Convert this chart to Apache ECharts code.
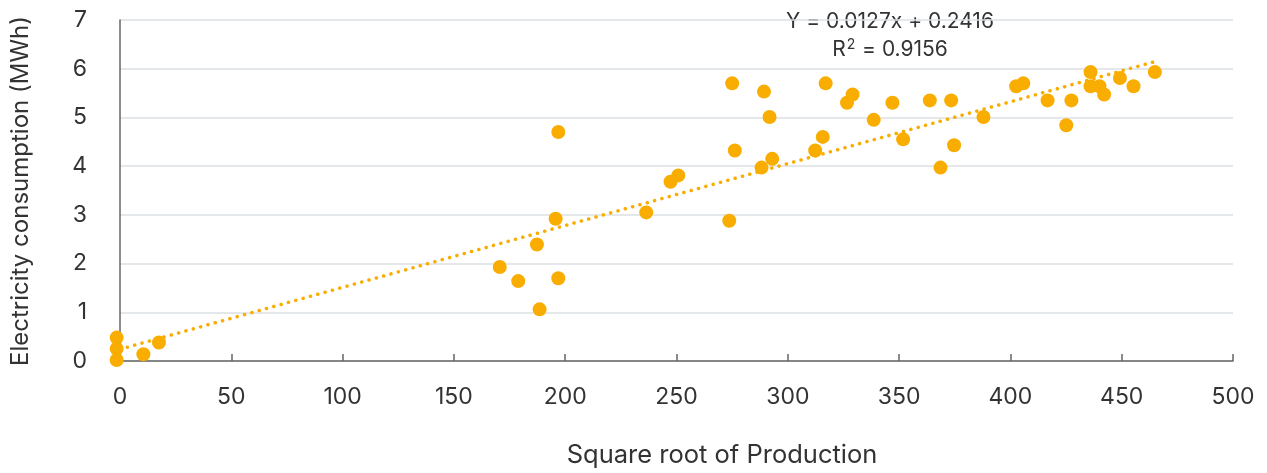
<!DOCTYPE html>
<html><head><meta charset="utf-8">
<script src="https://cdn.jsdelivr.net/npm/echarts@6/dist/echarts.min.js"></script>
<style>html,body{margin:0;padding:0;background:#fff}#c{width:1267px;height:473px}</style>
</head><body><div id="c"></div>
<script>
const xValues = [-1.5,-1.5,-1.5,10.5,17.5,170.6,178.9,187.3,188.5,195.7,196.9,196.9,
  236.4,247.3,250.8,273.7,275.0,276.2,288.2,289.3,291.8,293.0,312.3,315.7,317.0,326.6,329.1,
  338.6,347.0,351.8,363.8,368.6,373.4,374.7,387.9,402.6,405.8,416.7,425.1,427.4,436.0,436.0,
  440.0,442.1,449.2,455.3,464.9];
const yValues = [0.48,0.25,0.02,0.14,0.38,1.93,1.64,2.39,1.06,2.92,1.70,4.70,
  3.05,3.68,3.81,2.88,5.70,4.32,3.97,5.53,5.01,4.15,4.32,4.60,5.70,5.30,5.47,
  4.95,5.30,4.55,5.35,3.97,5.35,4.43,5.01,5.64,5.70,5.35,4.84,5.35,5.93,5.64,
  5.64,5.47,5.81,5.64,5.93];
const trendSlope = 0.0127, trendIntercept = 0.2416, trendR2 = 0.9156;
const trendX = [0, 465];
const xTicks = [0,50,100,150,200,250,300,350,400,450,500];
const yTicks = [0,1,2,3,4,5,6,7];

const pts = xValues.map((x,i)=>[x,yValues[i]]);
const trend = trendX.map(x=>[x, trendSlope*x + trendIntercept]);
const FONT = 'Inter';
const gold = '#F8AD00';

const chart = echarts.init(document.getElementById('c'), null, {renderer:'canvas'});
chart.setOption({
  animation:false,
  textStyle:{fontFamily:FONT},
  grid:{left:120,right:34,top:20,bottom:112,containLabel:false},
  xAxis:{type:'value',min:xTicks[0],max:xTicks[xTicks.length-1],interval:50,
    axisLine:{show:true,onZero:false,lineStyle:{color:'#666',width:1.5}},
    axisTick:{show:true,inside:true,length:7,lineStyle:{color:'#666',width:1.5}},
    axisLabel:{fontSize:23,color:'#333',margin:25,fontFamily:FONT},
    splitLine:{show:false}},
  yAxis:{type:'value',min:yTicks[0],max:yTicks[yTicks.length-1],interval:1,
    axisLine:{show:true,lineStyle:{color:'#666',width:1.5}},
    axisTick:{show:false},
    axisLabel:{fontSize:23,color:'#333',margin:33,fontFamily:FONT},
    splitLine:{show:true,lineStyle:{color:'#dde1e4',width:1.5}}},
  series:[
    {type:'line',data:trend,symbol:'none',silent:true,z:1,
      lineStyle:{color:gold,width:3.5,type:[0.1,7.5],cap:'round'}},
    {type:'scatter',data:pts,symbolSize:14,clip:false,z:3,
      itemStyle:{color:gold,opacity:1}}
  ],
  graphic:[
    {type:'text',x:890,y:22,style:{text:'Y = '+trendSlope+'x + '+trendIntercept,
      font:'21px '+FONT,fill:'#333',textAlign:'center',textVerticalAlign:'middle'}},
    {type:'text',x:890,y:50,style:{text:'{a|R}{s|2}{a| = '+trendR2+'}',
      textAlign:'center',textVerticalAlign:'middle',fill:'#333',
      rich:{a:{fontSize:21,fontFamily:FONT,color:'#333'},
            s:{fontSize:14,fontFamily:FONT,color:'#333',verticalAlign:'top',padding:[0,1,10,1]}}}},
    {type:'text',x:722,y:455,style:{text:'Square root of Production',
      font:'25.5px '+FONT,fill:'#333',textAlign:'center',textVerticalAlign:'middle'}},
    {type:'text',x:21,y:191,rotation:Math.PI/2,style:{text:'Electricity consumption (MWh)',
      font:'24px '+FONT,fill:'#333',textAlign:'center',textVerticalAlign:'middle'}}
  ]
});
</script></body></html>
